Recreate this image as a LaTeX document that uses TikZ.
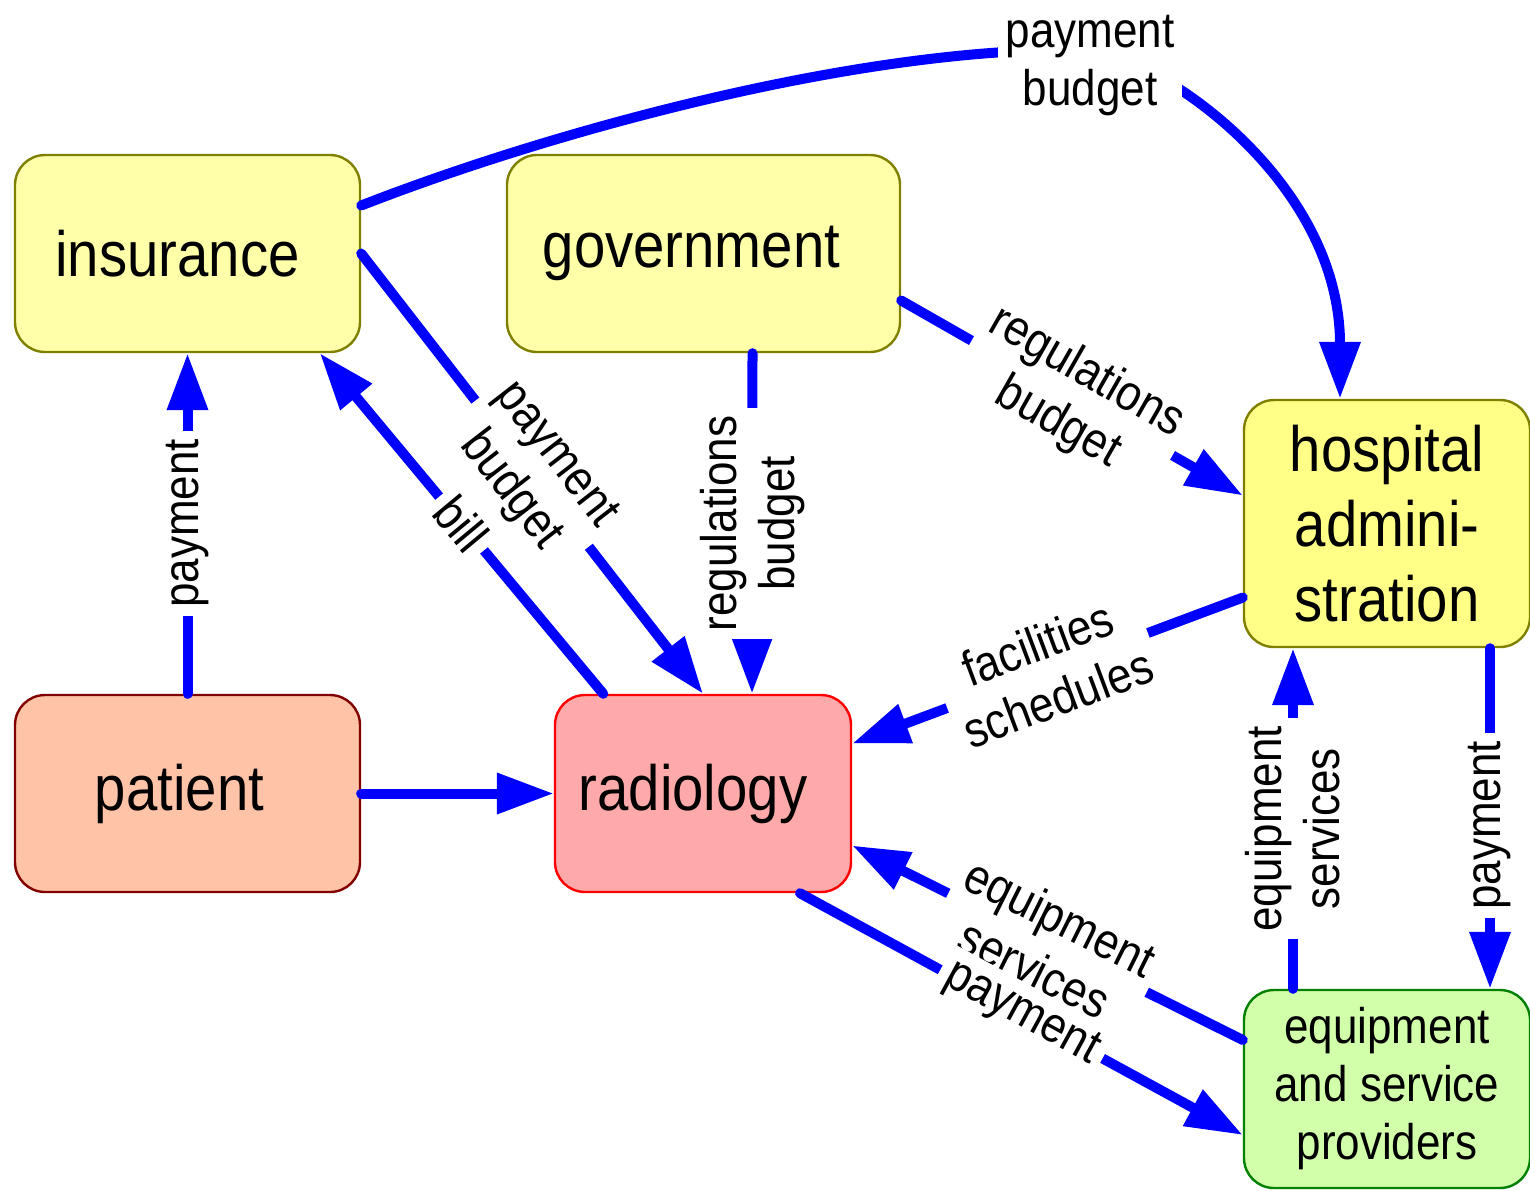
\documentclass[tikz,border=0pt]{standalone}
\usepackage{fontspec}
\setmainfont{Liberation Sans}[FakeStretch=0.88]
\usetikzlibrary{arrows.meta,calc}
\definecolor{edgeblue}{RGB}{0,0,255}
\definecolor{yfill}{RGB}{255,255,170}
\definecolor{hfill}{RGB}{255,255,136}
\definecolor{oliveb}{RGB}{128,128,0}
\definecolor{pfill}{RGB}{255,196,168}
\definecolor{pborder}{RGB}{128,0,0}
\definecolor{rfill}{RGB}{255,170,170}
\definecolor{rborder}{RGB}{255,0,0}
\definecolor{efill}{RGB}{210,255,170}
\definecolor{eborder}{RGB}{0,128,0}
\newcommand\bignodefont{\fontsize{32}{37.5}\selectfont}
\newcommand\edgelabfont{\fontsize{25}{29}\selectfont}
\begin{document}
\begin{tikzpicture}[x=0.5pt,y=-0.5pt,
  box/.style={draw, line width=1.2pt, rounded corners=15pt, inner sep=0pt, align=center, font=\bignodefont},
  edge/.style={draw=edgeblue, line width=5pt, line cap=round, -{Triangle[length=28.5pt,width=19.5pt]}},
  lab/.style={fill=white, inner sep=4pt, align=center, font=\edgelabfont, text=black}]
\useasboundingbox (0,0) rectangle (1530,1190);

\node[box, fill=yfill, draw=oliveb, minimum width=172.5pt, minimum height=98.5pt] (ins) at (187.5,253.5) {\hspace*{-10pt}insurance};
\node[box, fill=yfill, draw=oliveb, minimum width=196.5pt, minimum height=98.5pt] (gov) at (703.5,253.5) {\hspace*{-12pt}government};
\node[box, fill=hfill, draw=oliveb, minimum width=143pt, minimum height=123.5pt] (hosp) at (1387,523.5) {hospital\\admini-\\stration};
\node[box, fill=pfill, draw=pborder, minimum width=172.5pt, minimum height=98.5pt] (pat) at (187.5,793.5) {\hspace*{-8pt}patient};
\node[box, fill=rfill, draw=rborder, minimum width=148pt, minimum height=98.5pt] (rad) at (703,793.5) {\hspace*{-10pt}radiology};
\node[box, fill=efill, draw=eborder, minimum width=143pt, minimum height=99pt, font=\edgelabfont] (eq) at (1387,1089) {equipment\\and service\\providers};

\draw[edge] (pat.north) -- node[lab, rotate=90] {payment} (ins.south);
\draw[edge] (pat.east) -- (rad.west);
\draw[edge] (ins.east) -- node[lab, sloped] {payment\\budget} (rad.north);
\draw[edge] (rad.135) -- node[lab, sloped] {bill} (ins.-37.7);
\draw[edge] ($(gov.south)+(49,0)$) -- node[lab, rotate=90] {regulations\\budget} ($(rad.north)+(49,0)$);
\draw[edge] ($(gov.east)+(0,47)$) -- node[lab, sloped] {regulations\\budget} ($(hosp.west)+(0,-28)$);
\draw[edge] ($(hosp.west)+(0,74)$) -- node[lab, sloped] {facilities\\schedules} ($(rad.east)+(0,-50)$);
\draw[edge] ($(eq.west)+(0,-49)$) -- node[lab, sloped] {equipment\\services} ($(rad.east)+(0,52)$);
\draw[edge] ($(rad.south)+(97,0)$) -- node[lab, sloped] {payment} ($(eq.west)+(0,46)$);
\draw[edge] ($(hosp.south)+(103,0)$) -- node[lab, rotate=90, pos=0.52] {payment} ($(eq.north)+(103,0)$);
\draw[edge] ($(eq.north)+(-94,0)$) -- node[lab, rotate=90, pos=0.47] {equipment\\services} ($(hosp.south)+(-94,0)$);
\draw[edge] ($(ins.east)+(0,-48)$) .. controls (560,128) and (870,45) .. (1090,50)
  node[lab, yshift=-8pt] (tl) {payment\\budget}
  .. controls (1160,58) and (1340,180) .. ($(hosp.north)+(-47,0)$);
\end{tikzpicture}
\end{document}
